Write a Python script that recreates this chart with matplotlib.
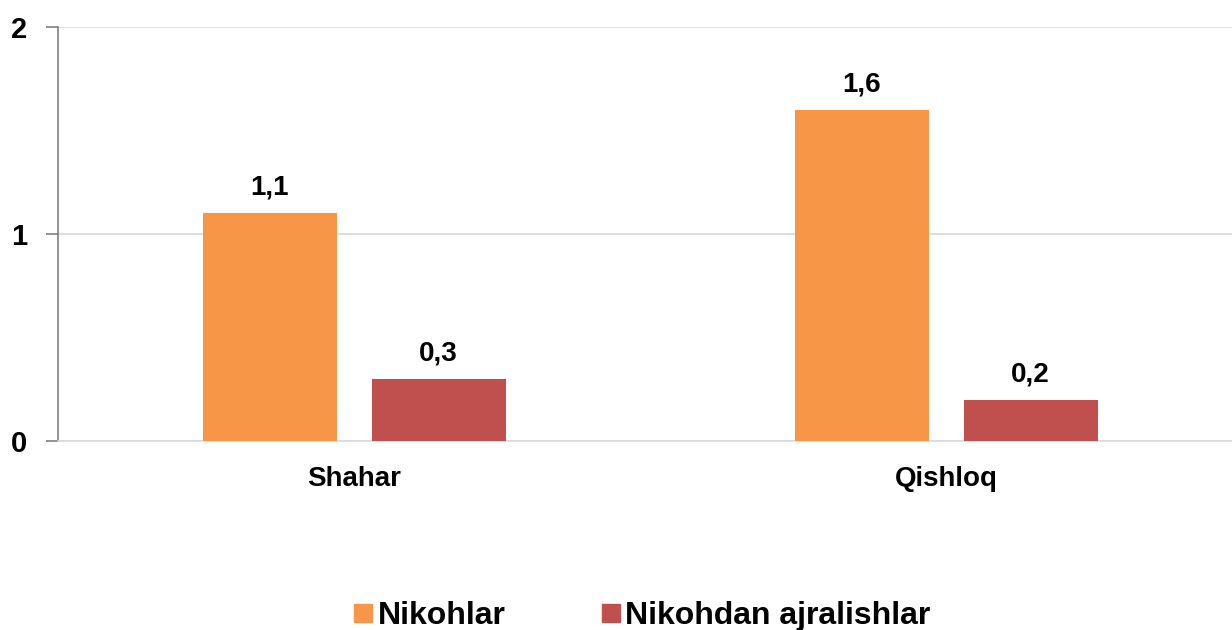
import numpy as np
import matplotlib.pyplot as plt
from matplotlib.lines import Line2D

categories = ['Shahar', 'Qishloq']
nikohlar = [1.1, 1.6]
ajralish = [0.3, 0.2]
series_names = ['Nikohlar', 'Nikohdan ajralishlar']
colors = ['#F79646', '#C0504D']

plt.rcParams['font.family'] = ['Liberation Sans', 'DejaVu Sans']
plt.rcParams['font.weight'] = 'bold'

fig = plt.figure(figsize=(12.32, 6.3), dpi=100)
ax = fig.add_axes([0.0471, 0.30, 0.961, 0.657])

x = np.arange(len(categories))
w = 0.226
b1 = ax.bar(x - 0.142, nikohlar, w, color=colors[0], zorder=3)
b2 = ax.bar(x + 0.143, ajralish, w, color=colors[1], zorder=3)

for bars, vals in [(b1, nikohlar), (b2, ajralish)]:
    for r, v in zip(bars, vals):
        ax.annotate(f'{v:.1f}'.replace('.', ','),
                    (r.get_x() + r.get_width() / 2, v),
                    xytext=(0, 9), textcoords='offset points',
                    ha='center', va='bottom', fontsize=20, fontweight='bold')

ax.set_xlim(-0.5, 1.5)
ax.set_ylim(0, 2)
ax.set_yticks([0, 1, 2])
ax.set_yticklabels(['0', '1', '2'], fontsize=21, fontweight='bold')
ax.set_xticks(x)
ax.set_xticklabels(categories, fontsize=20, fontweight='bold')
ax.tick_params(axis='x', length=0, pad=18)
ax.tick_params(axis='y', length=9, width=1.2, color='#808080', pad=13)
ax.grid(axis='y', color='#d9d9d9', linewidth=1.2, zorder=0)

for s in ['top', 'right']:
    ax.spines[s].set_visible(False)
ax.spines['left'].set_color('#808080')
ax.spines['left'].set_linewidth(1.2)
ax.spines['bottom'].set_color('#d9d9d9')
ax.spines['bottom'].set_linewidth(1.2)

handles = [Line2D([], [], marker='s', linestyle='none', markersize=13,
                  markerfacecolor=c, markeredgecolor=c) for c in colors]
fig.legend(handles, series_names, loc='center', bbox_to_anchor=(0.52, 0.022),
           ncol=2, frameon=False, prop={'weight': 'bold', 'size': 23},
           handletextpad=0.05, columnspacing=2.9, handlelength=0.8)

fig.savefig('out.png', dpi=100)
